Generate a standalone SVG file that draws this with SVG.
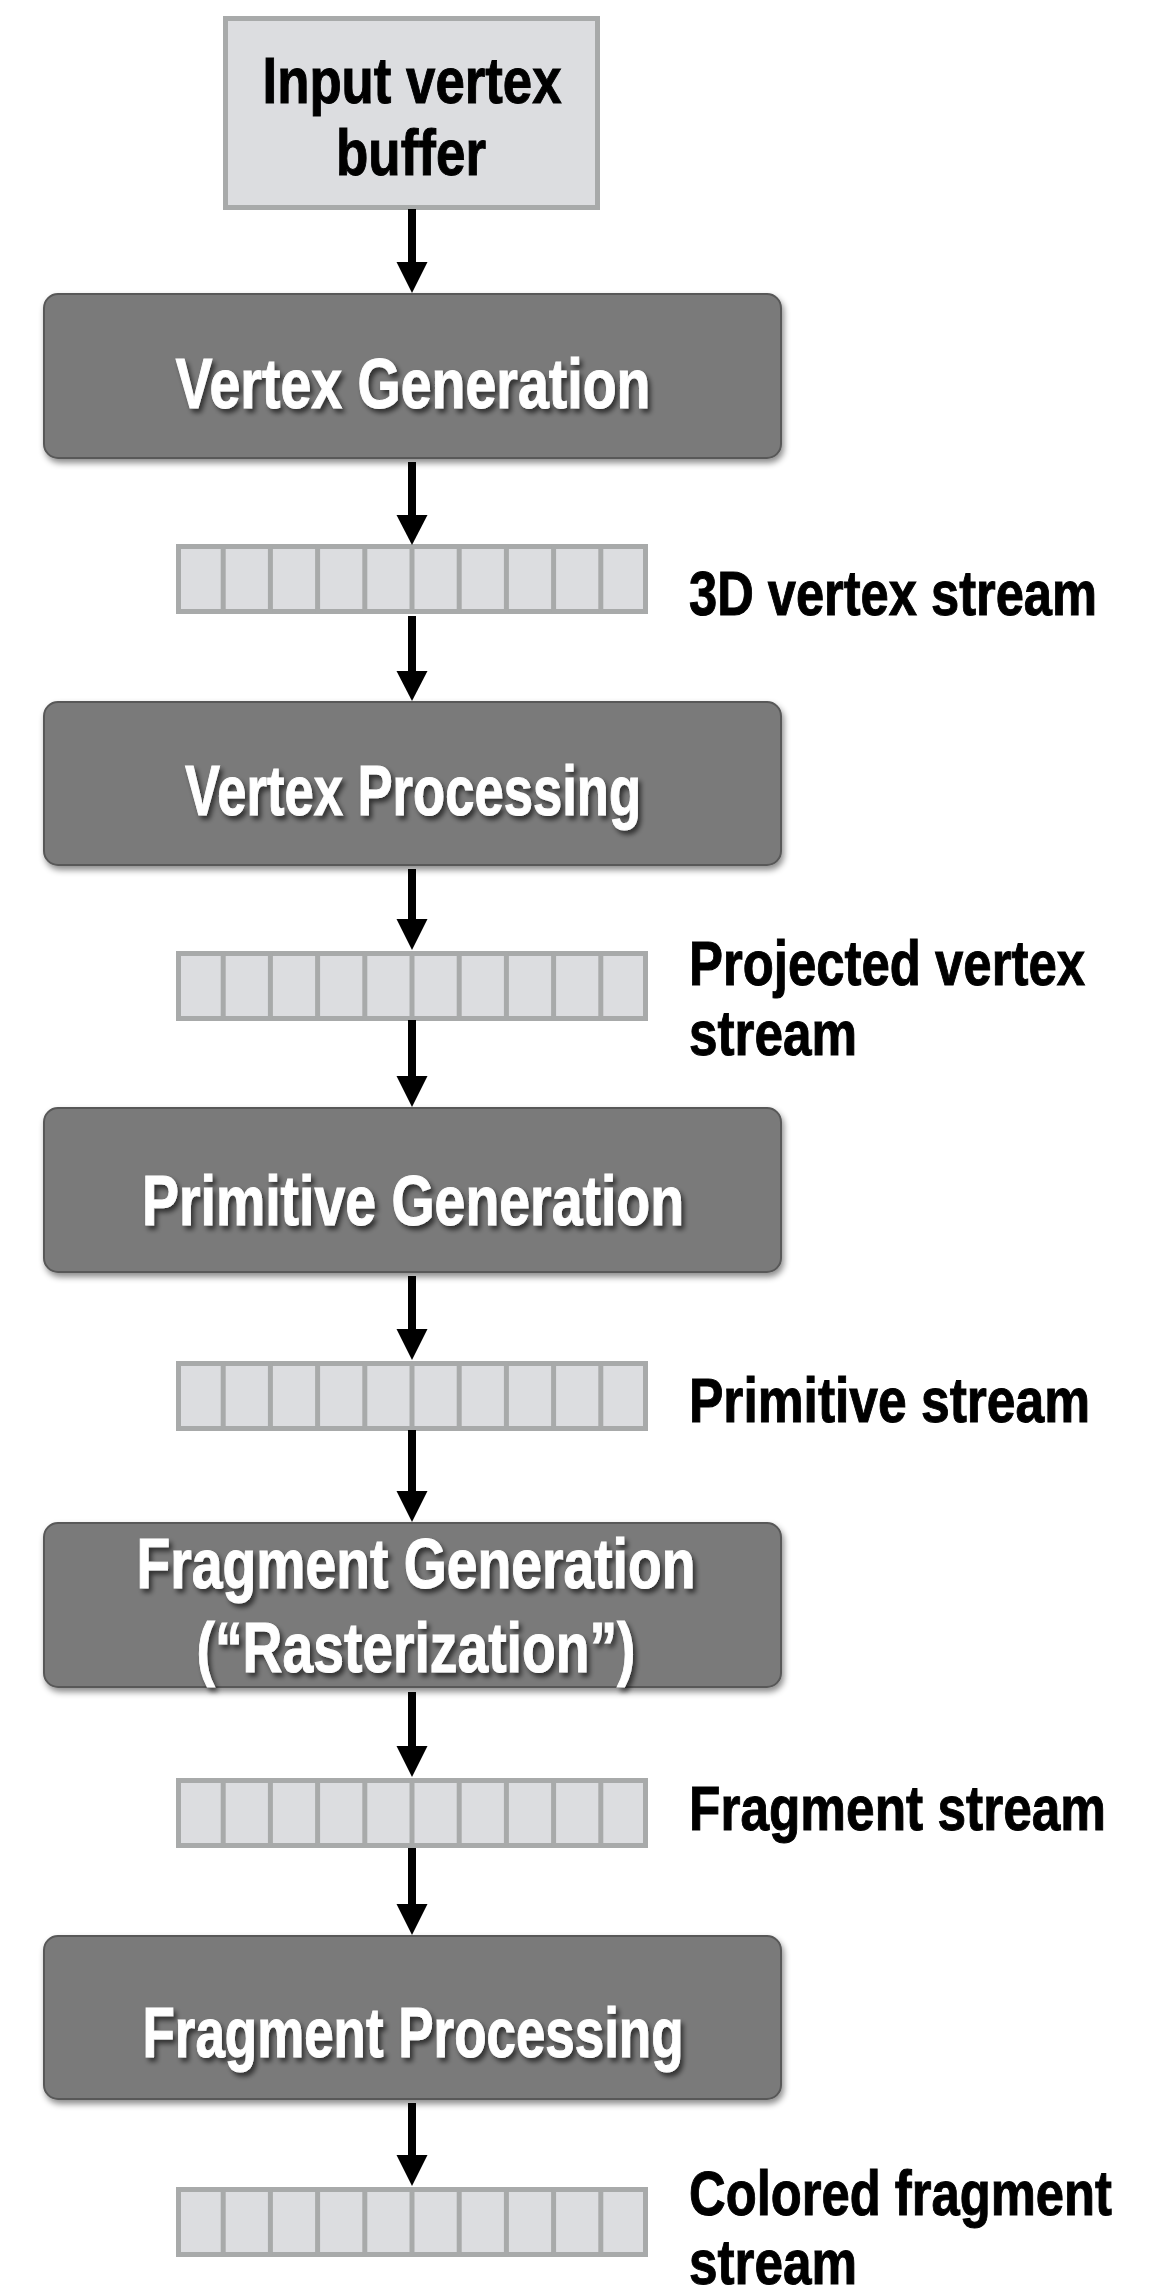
<svg xmlns="http://www.w3.org/2000/svg" width="1160" height="2287" viewBox="0 0 1160 2287">
<style>
.stage{fill:#7a7a7a;stroke:#585858;stroke-width:2}
.st{font-family:"Liberation Sans Narrow","Liberation Sans",Arial,sans-serif;font-weight:bold;font-size:70px;fill:#ffffff;stroke:#ffffff;stroke-width:1;text-anchor:middle}
.lbl{font-family:"Liberation Sans Narrow","Liberation Sans",Arial,sans-serif;font-weight:bold;font-size:63px;fill:#000000;stroke:#000000;stroke-width:1}
.inp{font-family:"Liberation Sans Narrow","Liberation Sans",Arial,sans-serif;font-weight:bold;font-size:64px;fill:#000000;stroke:#000000;stroke-width:1;text-anchor:middle}
.buf{fill:#dcdde0;stroke:#a8aaaa;stroke-width:5}
.sep{stroke:#a8aaaa;stroke-width:5}
.conn{stroke:#000;stroke-width:8;fill:none}
.head{fill:#000}
</style>
<defs>
<filter id="boxsh" x="-5%" y="-10%" width="112%" height="130%">
<feDropShadow dx="2" dy="4" stdDeviation="3" flood-color="#000" flood-opacity="0.45"/>
</filter>
<filter id="txtsh" x="-5%" y="-20%" width="112%" height="150%">
<feDropShadow dx="3" dy="4" stdDeviation="2.5" flood-color="#000" flood-opacity="0.6"/>
</filter>
<g id="cells">
<rect class="buf" x="178.5" y="2.5" width="467" height="65"/>
<line class="sep" x1="223.2" y1="2" x2="223.2" y2="68"/>
<line class="sep" x1="270.4" y1="2" x2="270.4" y2="68"/>
<line class="sep" x1="317.6" y1="2" x2="317.6" y2="68"/>
<line class="sep" x1="364.8" y1="2" x2="364.8" y2="68"/>
<line class="sep" x1="412" y1="2" x2="412" y2="68"/>
<line class="sep" x1="459.2" y1="2" x2="459.2" y2="68"/>
<line class="sep" x1="506.4" y1="2" x2="506.4" y2="68"/>
<line class="sep" x1="553.6" y1="2" x2="553.6" y2="68"/>
<line class="sep" x1="600.8" y1="2" x2="600.8" y2="68"/>
</g>
</defs>
<rect width="1160" height="2287" fill="#ffffff"/>

<g id="input-buffer">
<rect x="225.5" y="18.5" width="372" height="189" fill="#dcdde0" stroke="#a8aaaa" stroke-width="5"/>
<text class="inp" x="412" y="103" textLength="299" lengthAdjust="spacingAndGlyphs">Input vertex</text>
<text class="inp" x="411" y="175" textLength="150" lengthAdjust="spacingAndGlyphs">buffer</text>
</g>

<g id="vertex-generation">
<rect class="stage" x="44" y="294" width="737" height="164" rx="14" filter="url(#boxsh)"/>
<text class="st" x="413" y="408" textLength="475" lengthAdjust="spacingAndGlyphs" filter="url(#txtsh)">Vertex Generation</text>
</g>

<g id="stream-3d-vertex">
<use href="#cells" y="544"/>
<text class="lbl" x="689" y="615" textLength="408" lengthAdjust="spacingAndGlyphs">3D vertex stream</text>
</g>

<g id="vertex-processing">
<rect class="stage" x="44" y="702" width="737" height="163" rx="14" filter="url(#boxsh)"/>
<text class="st" x="413" y="815" textLength="456" lengthAdjust="spacingAndGlyphs" filter="url(#txtsh)">Vertex Processing</text>
</g>

<g id="stream-projected-vertex">
<use href="#cells" y="951"/>
<text class="lbl" x="689" y="985" textLength="396" lengthAdjust="spacingAndGlyphs">Projected vertex</text>
<text class="lbl" x="689" y="1055" textLength="168" lengthAdjust="spacingAndGlyphs">stream</text>
</g>

<g id="primitive-generation">
<rect class="stage" x="44" y="1108" width="737" height="164" rx="14" filter="url(#boxsh)"/>
<text class="st" x="413" y="1225" textLength="542" lengthAdjust="spacingAndGlyphs" filter="url(#txtsh)">Primitive Generation</text>
</g>

<g id="stream-primitive">
<use href="#cells" y="1361"/>
<text class="lbl" x="689" y="1422" textLength="401" lengthAdjust="spacingAndGlyphs">Primitive stream</text>
</g>

<g id="fragment-generation">
<rect class="stage" x="44" y="1523" width="737" height="164" rx="14" filter="url(#boxsh)"/>
<text class="st" x="416" y="1588" textLength="559" lengthAdjust="spacingAndGlyphs" filter="url(#txtsh)">Fragment Generation</text>
<text class="st" x="416" y="1672" textLength="439" lengthAdjust="spacingAndGlyphs" filter="url(#txtsh)">(“Rasterization”)</text>
</g>

<g id="stream-fragment">
<use href="#cells" y="1778"/>
<text class="lbl" x="689" y="1830" textLength="417" lengthAdjust="spacingAndGlyphs">Fragment stream</text>
</g>

<g id="fragment-processing">
<rect class="stage" x="44" y="1936" width="737" height="163" rx="14" filter="url(#boxsh)"/>
<text class="st" x="413" y="2057" textLength="541" lengthAdjust="spacingAndGlyphs" filter="url(#txtsh)">Fragment Processing</text>
</g>

<g id="stream-colored-fragment">
<use href="#cells" y="2187"/>
<text class="lbl" x="689" y="2215" textLength="423" lengthAdjust="spacingAndGlyphs">Colored fragment</text>
<text class="lbl" x="689" y="2284" textLength="168" lengthAdjust="spacingAndGlyphs">stream</text>
</g>

<g id="connectors">
<line class="conn" x1="412" y1="209" x2="412" y2="265"/>
<polygon class="head" points="396.5,262 427.5,262 412,293"/>
<line class="conn" x1="412" y1="462" x2="412" y2="518"/>
<polygon class="head" points="396.5,515 427.5,515 412,545"/>
<line class="conn" x1="412" y1="616" x2="412" y2="674"/>
<polygon class="head" points="396.5,671 427.5,671 412,701"/>
<line class="conn" x1="412" y1="869" x2="412" y2="922"/>
<polygon class="head" points="396.5,919 427.5,919 412,950"/>
<line class="conn" x1="412" y1="1020" x2="412" y2="1079"/>
<polygon class="head" points="396.5,1076 427.5,1076 412,1107"/>
<line class="conn" x1="412" y1="1276" x2="412" y2="1332"/>
<polygon class="head" points="396.5,1329 427.5,1329 412,1360"/>
<line class="conn" x1="412" y1="1430" x2="412" y2="1494"/>
<polygon class="head" points="396.5,1491 427.5,1491 412,1522"/>
<line class="conn" x1="412" y1="1692" x2="412" y2="1749"/>
<polygon class="head" points="396.5,1746 427.5,1746 412,1777"/>
<line class="conn" x1="412" y1="1848" x2="412" y2="1907"/>
<polygon class="head" points="396.5,1904 427.5,1904 412,1935"/>
<line class="conn" x1="412" y1="2103" x2="412" y2="2158"/>
<polygon class="head" points="396.5,2155 427.5,2155 412,2186"/>
</g>
</svg>
